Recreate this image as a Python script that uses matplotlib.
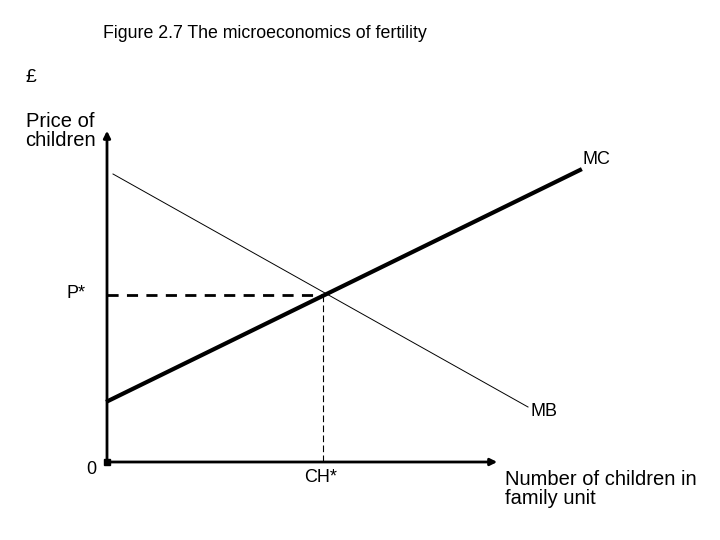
import matplotlib
matplotlib.use("Agg")
from matplotlib import pyplot as plt

# data in picture units (x to the right, y downwards)
mc_x = [108, 580]
mc_y = [401, 170]
mb_x = [113, 528]
mb_y = [174, 407]
eq_x = 323
eq_y = 295
origin = (107, 462)
x_end = 500
y_end = 128

fig = plt.figure(figsize=(7.2, 5.4), dpi=100)
ax = fig.add_axes([0, 0, 1, 1])
ax.set_xlim(0, 720)
ax.set_ylim(540, 0)
ax.axis("off")

# axes with arrows
ax.annotate("", xy=(x_end, origin[1]), xytext=origin,
            arrowprops=dict(arrowstyle="-|>", lw=2, color="black", mutation_scale=10))
ax.annotate("", xy=(origin[0], y_end), xytext=origin,
            arrowprops=dict(arrowstyle="-|>", lw=2, color="black", mutation_scale=10))
ax.plot([origin[0]], [origin[1]], "s", color="black", ms=4)

ax.plot(mc_x, mc_y, color="black", lw=3)
ax.plot(mb_x, mb_y, color="black", lw=0.7)
ax.plot([origin[0], eq_x], [eq_y, eq_y], color="black", lw=2, ls=(0, (4, 3)))
ax.plot([eq_x, eq_x], [eq_y, origin[1]], color="black", lw=0.8, ls=(0, (6, 3)))

f = dict(family="Liberation Sans", color="black")
ax.text(103, 34, "Figure 2.7 The microeconomics of fertility", fontsize=12.8, va="center", **f)
ax.text(26, 78, "£", fontsize=14, va="center", **f)
ax.text(60, 131, "Price of\nchildren", fontsize=14.5, va="center", ha="center", linespacing=1.05, **f)
ax.text(583, 159, "MC", fontsize=13, va="center", **f)
ax.text(530, 411, "MB", fontsize=13, va="center", **f)
ax.text(66, 293, "P*", fontsize=13, va="center", **f)
ax.text(86, 470, "0", fontsize=13, va="center", **f)
ax.text(304, 478, "CH*", fontsize=13, va="center", **f)
ax.text(505, 489, "Number of children in\nfamily unit", fontsize=14.5, va="center", linespacing=1.05, **f)

fig.savefig("out.png", dpi=100)
